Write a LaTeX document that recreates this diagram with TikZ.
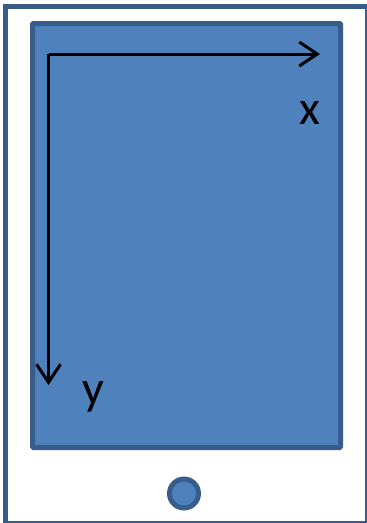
\documentclass[tikz,border=0pt]{standalone}
\usepackage{fontspec}
\setmainfont{Carlito}
\usepackage{xcolor}
\usetikzlibrary{arrows.meta}
\definecolor{scrfill}{HTML}{4F81BD}
\definecolor{scrline}{HTML}{385D8A}
\tikzset{
  axis/.style={line width=3pt, -{Straight Barb[length=18pt, width=24pt, line width=3pt]}},
  axislabel/.style={font=\fontsize{48}{48}\selectfont, inner sep=0pt}
}

\begin{document}
\begin{tikzpicture}[x=1pt, y=-1pt]
\useasboundingbox (0,0) rectangle (367,523);
% Tablet body
\draw[scrline, line width=5pt, fill=white] (5.3,6.5) rectangle (367,523);

% Screen
\node[draw=scrline, fill=scrfill, line width=5pt, rounded corners=1pt, inner sep=0pt,
  minimum width=308pt, minimum height=424pt] (screen) at (186.5,235.5) {};

% Axes
\coordinate (origin) at (48.5,54);
\coordinate (xend) at (320,54);
\coordinate (yend) at (48.5,385);
\draw[axis] (origin) -- (xend);
\draw[axis] (origin) -- (yend);
\node[axislabel] (xlabel) at (310,113) {x};
\node[axislabel] (ylabel) at (93,397) {y};

% Home button
\node[circle, draw=scrline, fill=scrfill, line width=5pt, minimum size=29pt, inner sep=0pt] (button) at (184,493.5) {};
\end{tikzpicture}
\end{document}
